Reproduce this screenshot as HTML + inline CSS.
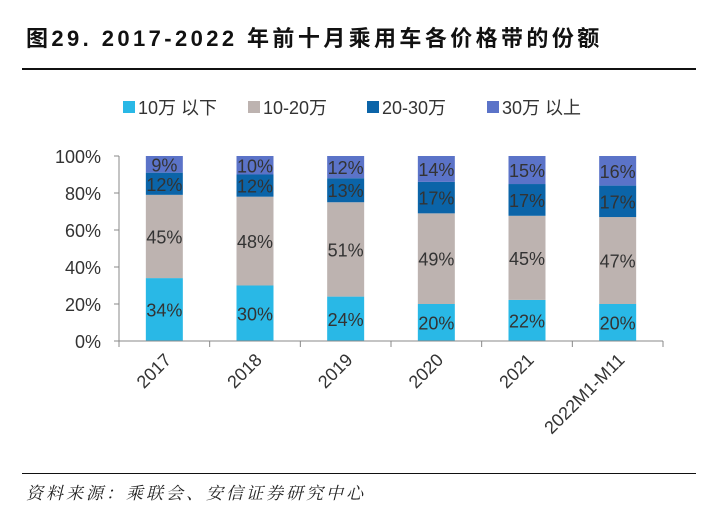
<!DOCTYPE html>
<html><head><meta charset="utf-8">
<style>
body{margin:0;width:716px;height:510px;background:#fff;overflow:hidden;font-family:"Liberation Sans","Noto Sans CJK SC",sans-serif;}
#title{position:absolute;left:26px;top:21px;font-size:22px;letter-spacing:3.4px;font-weight:bold;color:#111;font-family:"Liberation Sans","Noto Sans CJK SC",sans-serif;white-space:nowrap;}
.rule{position:absolute;left:22px;width:674px;height:2px;background:#111;}
#src{position:absolute;left:26px;top:479px;font-size:17px;letter-spacing:3px;font-style:italic;color:#222;font-family:"Liberation Serif","Noto Serif CJK SC",serif;white-space:nowrap;}
svg{position:absolute;left:0;top:0;}
</style></head><body>
<div id="title">图29. 2017-2022 年前十月乘用车各价格带的份额</div>
<div class="rule" style="top:68px"></div>
<div class="rule" style="top:473px;height:1px"></div>
<div id="src">资料来源：乘联会、安信证券研究中心</div>
<svg id="chart" width="716" height="510"></svg>
<script>
const categories=["2017","2018","2019","2020","2021","2022M1-M11"];
const seriesNames=["10万以下","10-20万","20-30万","30万以上"];
const legendLabels=["10万 以下","10-20万","20-30万","30万 以上"];
const s1=[34,30,24,20,22,20];
const s2=[45,48,51,49,45,47];
const s3=[12,12,13,17,17,17];
const s4=[9,10,12,14,15,16];
const yTicks=[0,20,40,60,80,100];
const colors=["#29B8E6","#BDB3B0","#0B64A8","#5B73C8"];
const NS="http://www.w3.org/2000/svg";
const svg=document.getElementById('chart');
const x0=119,x1=663,y0=341,y1=156;
const slot=(x1-x0)/categories.length, bw=37;
function yS(v){return y0-(y0-y1)*v/100;}
function xC(i){return x0+slot*(i+0.5);}
function mk(t,a){const e=document.createElementNS(NS,t);for(const k in a)e.setAttribute(k,a[k]);svg.appendChild(e);return e;}
yTicks.forEach(v=>{
 const t=mk('text',{x:101,y:yS(v)+7,'text-anchor':'end','font-size':18,fill:'#333'});
 
 
 t.textContent=v+'%';
 const l=mk('line',{x1:x0-5,x2:x0,y1:yS(v),y2:yS(v),stroke:'#888'});
 
 
});
const ya=mk('line',{x1:x0,x2:x0,y1:y1,y2:y0,stroke:'#888'});


const series=[s1,s2,s3,s4];
categories.forEach((c,i)=>{
 let cum=0;
 const total=s1[i]+s2[i]+s3[i]+s4[i];
 series.forEach((s,k)=>{
  const v=s[i];
  const top=yS((cum+v)*100/total),bot=yS(cum*100/total);
  const r=mk('rect',{x:xC(i)-bw/2,y:top,width:bw,height:bot-top,fill:colors[k]});
  
  
  const t=mk('text',{x:xC(i),y:(top+bot)/2+7,'text-anchor':'middle','font-size':18,fill:'#333'});
  
  
  t.textContent=v+'%';
  cum+=v;
 });
 const lb=mk('text',{x:0,y:0,'text-anchor':'end','font-size':18,fill:'#333',transform:`translate(${xC(i)+8},${y0+20}) rotate(-45)`});
 
 
 lb.textContent=c;
});
for(let i=0;i<=categories.length;i++){
 const l=mk('line',{x1:x0+slot*i,x2:x0+slot*i,y1:y0,y2:y0+6,stroke:'#888'});
 
 
}
const xa=mk('line',{x1:x0,x2:x1,y1:y0,y2:y0,stroke:'#888'});


const lx=[123,248,367,487];
legendLabels.forEach((n,k)=>{
 const r=mk('rect',{x:lx[k],y:101,width:12,height:12,fill:colors[k]});
 
 
 const t=mk('text',{x:lx[k]+15,y:114,'font-size':18,fill:'#333'});
 
 
 t.textContent=n;
});
</script>
</body></html>
